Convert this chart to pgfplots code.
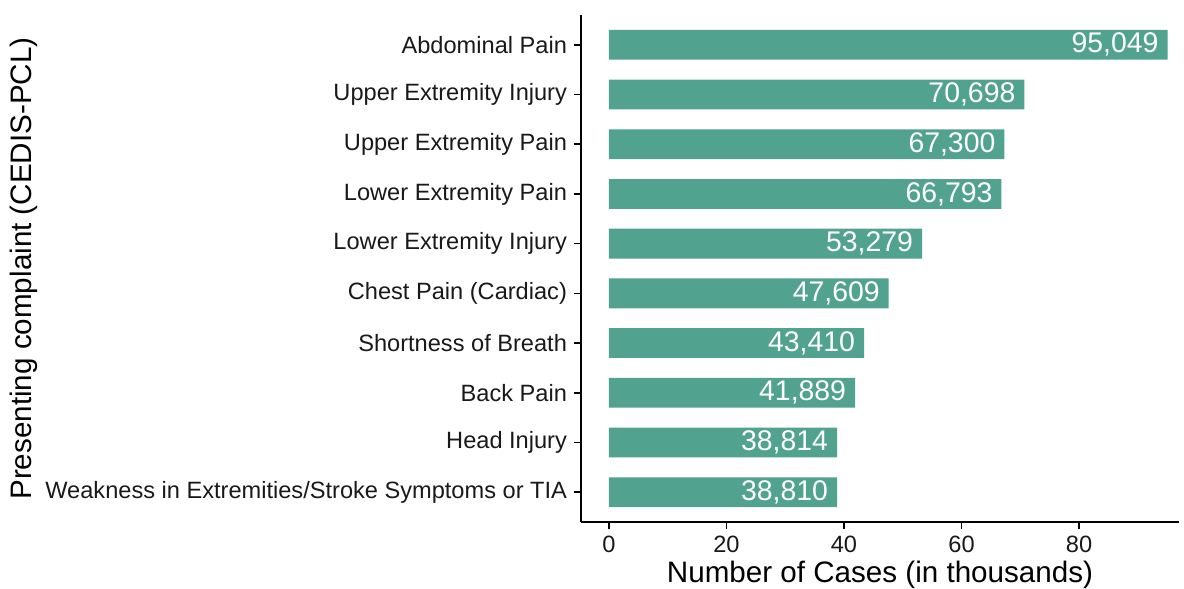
\documentclass[border=0pt]{standalone}
\usepackage{pgfplots}
\pgfplotsset{compat=1.18}
\usepackage{fontspec}
\setmainfont{Liberation Sans}
\definecolor{barcol}{RGB}{82,162,144}
\begin{document}
\begin{tikzpicture}
\path[use as bounding box] (0,0) rectangle (592pt,294.5pt);
\begin{axis}[
  at={(290.5pt,33.5pt)}, anchor=south west,
  scale only axis, width=299pt, height=253.5pt,
  xbar, bar width=0.6,
  xmin=-4.75, xmax=97, ymin=0.4, ymax=10.6,
  axis x line*=bottom, axis y line*=left,
  axis line style={line width=1.2pt, -},
  every tick/.style={black, line width=0.8pt},
  tick align=outside, major tick length=3.5pt,
  xtick={0,20,40,60,80},
  ytick={1,...,10},
  yticklabels={Weakness in Extremities/Stroke Symptoms or TIA, Head Injury, Back Pain, Shortness of Breath, Chest Pain (Cardiac), Lower Extremity Injury, Lower Extremity Pain, Upper Extremity Pain, Upper Extremity Injury, Abdominal Pain},
  tick label style={font=\fontsize{11.8}{13}\selectfont, text=black!90},
  /pgf/number format/assume math mode=true,
  xlabel={Number of Cases (in thousands)},
  ylabel={Presenting complaint (CEDIS-PCL)},
  label style={font=\fontsize{14.8}{16}\selectfont},
  xlabel style={yshift=2.5pt},
  ylabel style={yshift=-3pt},
  point meta=explicit symbolic,
  nodes near coords,
  every node near coord/.append style={anchor=east, xshift=-1pt, text=white, font=\fontsize{14.2}{16}\selectfont},
  clip=false,
]
\addplot[fill=barcol, draw=none] table[x=val, y=pos, meta=lab] {
pos val lab
10 95.049 95,049
9 70.698 70,698
8 67.300 67,300
7 66.793 66,793
6 53.279 53,279
5 47.609 47,609
4 43.410 43,410
3 41.889 41,889
2 38.814 38,814
1 38.810 38,810
};
\end{axis}
\end{tikzpicture}
\end{document}
